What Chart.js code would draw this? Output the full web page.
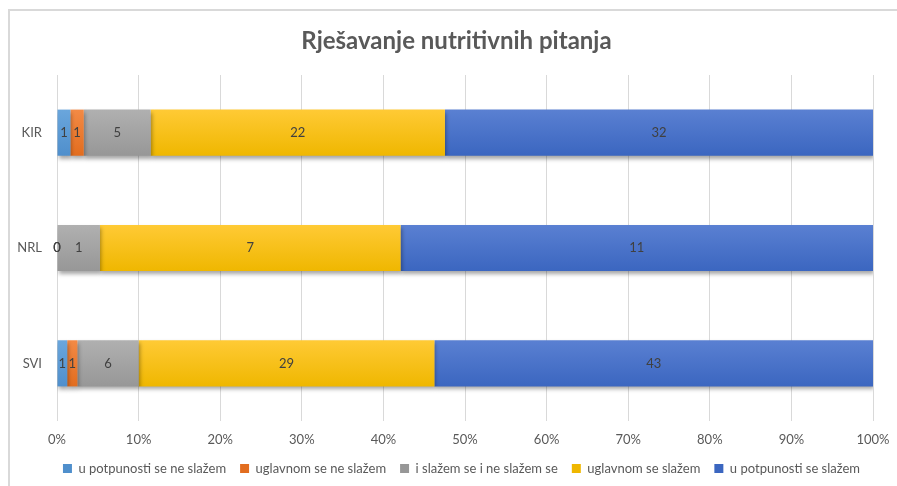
<!DOCTYPE html>
<html>
<head>
<meta charset="utf-8">
<script src="https://cdn.jsdelivr.net/npm/chart.js@4.4.1/dist/chart.umd.min.js"></script>
<style>
  html, body { margin: 0; padding: 0; background: #fff; }
  #wrap { width: 897px; height: 486px; position: relative; }
</style>
</head>
<body>
<div id="wrap"><canvas id="chart" width="897" height="486"></canvas></div>
<script>
// odgovori po skupinama
const categories = ['KIR', 'NRL', 'SVI'];
const seriesNames = [
    'u potpunosti se ne slažem',
    'uglavnom se ne slažem',
    'i slažem se i ne slažem se',
    'uglavnom se slažem',
    'u potpunosti se slažem'
];
const neSlazemPotpuno = [1, 0, 1];
const neSlazemUglavnom = [1, 0, 1];
const neutralno = [5, 1, 6];
const slazemUglavnom = [22, 7, 29];
const slazemPotpuno = [32, 11, 43];
const xTicks = [0, 10, 20, 30, 40, 50, 60, 70, 80, 90, 100];

const colorsTop = ['#6aa6dc', '#f38a45', '#b0b0b0', '#ffca35', '#5a80d2'];
const colorsBottom = ['#4f8fcc', '#e26d1f', '#979797', '#efb700', '#3b66c0'];

const counts = [neSlazemPotpuno, neSlazemUglavnom, neutralno, slazemUglavnom, slazemPotpuno];
const totals = categories.map((c, i) => counts.reduce((s, arr) => s + arr[i], 0));

// vertikalni gradijent za svaki segment
function barFill(si) {
    return function (ctx) {
        const chart = ctx.chart;
        const y = chart.scales.y;
        if (!y || !chart.chartArea || ctx.dataIndex === undefined) return colorsTop[si];
        const center = y.getPixelForValue(ctx.dataIndex);
        const step = Math.abs(y.getPixelForValue(1) - y.getPixelForValue(0));
        const h = step * 0.4 / 2;
        const g = chart.ctx.createLinearGradient(0, center - h, 0, center + h);
        g.addColorStop(0, colorsTop[si]);
        g.addColorStop(1, colorsBottom[si]);
        return g;
    };
}

const datasets = counts.map((arr, si) => ({
    label: seriesNames[si],
    data: arr.map((v, i) => v / totals[i] * 100),
    raw: arr,
    backgroundColor: barFill(si),
    borderWidth: 0,
    barPercentage: 0.4,
    categoryPercentage: 1.0
}));

// sjena ispod traka
const shadowPlugin = {
    id: 'shadow',
    beforeDatasetsDraw(chart) {
        const c = chart.ctx;
        c.save();
        c.shadowColor = 'rgba(0,0,0,0.35)';
        c.shadowBlur = 4;
        c.shadowOffsetX = 1;
        c.shadowOffsetY = 3;
    },
    afterDatasetsDraw(chart) {
        chart.ctx.restore();
    }
};

// brojevi u sredini segmenata
const valueLabels = {
    id: 'valueLabels',
    afterDatasetsDraw(chart) {
        const c = chart.ctx;
        c.save();
        c.font = '13px Lato';
        c.fillStyle = '#404040';
        c.textAlign = 'center';
        c.textBaseline = 'middle';
        chart.data.datasets.forEach((ds, si) => {
            const meta = chart.getDatasetMeta(si);
            meta.data.forEach((bar, i) => {
                const x = (bar.x + bar.base) / 2;
                c.fillText(String(ds.raw[i]), x, bar.y);
            });
        });
        c.restore();
    }
};

// naslov i legenda centrirani na cijelu širinu okvira
const centerBlocks = {
    id: 'centerBlocks',
    afterLayout(chart) {
        if (chart.titleBlock) {
            chart.titleBlock.left += 20;
            chart.titleBlock.right += 20;
        }
        if (chart.legend) {
            chart.legend.left += 25;
            chart.legend.right += 25;
        }
    }
};

// okvir grafikona
const frame = {
    id: 'frame',
    beforeDraw(chart) {
        const c = chart.ctx;
        c.save();
        c.strokeStyle = '#d9d9d9';
        c.lineWidth = 2;
        c.beginPath();
        c.moveTo(9, chart.height);
        c.lineTo(9, 10);
        c.lineTo(chart.width, 10);
        c.stroke();
        c.restore();
    }
};

new Chart(document.getElementById('chart'), {
    type: 'bar',
    data: { labels: categories, datasets: datasets },
    plugins: [frame, centerBlocks, shadowPlugin, valueLabels],
    options: {
        indexAxis: 'y',
        responsive: false,
        animation: false,
        layout: { padding: { left: 0, right: 24, top: 0, bottom: 1 } },
        scales: {
            x: {
                stacked: true,
                min: 0,
                max: 100,
                afterBuildTicks(scale) {
                    scale.ticks = xTicks.map(v => ({ value: v }));
                },
                afterFit(scale) {
                    scale.height = 27;
                    scale.paddingLeft = 0;
                    scale.paddingRight = 0;
                },
                ticks: {
                    color: '#595959',
                    font: { family: 'Lato', size: 13 },
                    padding: 11,
                    callback: v => v + '%'
                },
                grid: { color: '#d9d9d9', drawTicks: false },
                border: { display: false }
            },
            y: {
                stacked: true,
                afterFit(scale) { scale.width = 57; },
                ticks: {
                    color: '#595959',
                    font: { family: 'Lato', size: 13 },
                    padding: 7
                },
                grid: { display: false },
                border: { display: false }
            }
        },
        plugins: {
            title: {
                display: true,
                text: 'Rješavanje nutritivnih pitanja',
                color: '#595959',
                font: { family: 'Lato', size: 24, weight: 'bold' },
                padding: { top: 26.6, bottom: 19.6 }
            },
            legend: {
                position: 'bottom',
                labels: {
                    color: '#595959',
                    font: { family: 'Lato', size: 13 },
                    boxWidth: 9,
                    boxHeight: 9,
                    padding: 14
                }
            },
            tooltip: { enabled: false }
        }
    }
});
</script>
</body>
</html>
